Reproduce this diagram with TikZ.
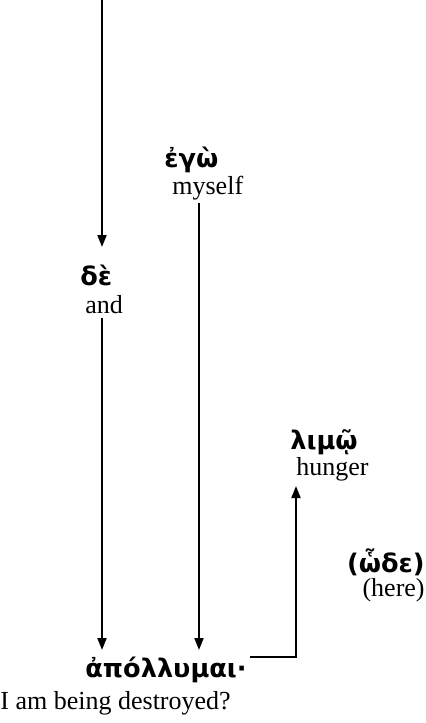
\documentclass[tikz,border=0pt]{standalone}
\usepackage{fontspec}
\setmainfont{Liberation Serif}
\newfontfamily\grk{DejaVu Sans}
\usetikzlibrary{arrows.meta}
\tikzset{
  greek/.style={font=\grk\bfseries\fontsize{12.8}{14}\selectfont, inner sep=0pt, anchor=west},
  eng/.style={font=\fontsize{13}{15}\selectfont, inner sep=0pt, anchor=west},
  arr/.style={line width=0.9pt, -{Triangle[length=6pt,width=4.5pt]}},
}
\begin{document}
\begin{tikzpicture}[x=0.5pt,y=-0.5pt]
\useasboundingbox (0,0) rectangle (426,723);
\coordinate (top) at (102,0);
\node[greek] (ego) at (164,160) {ἐγὼ};
\node[eng] (myself) at (172,188) {myself};
\node[greek] (de) at (80,275) {δὲ};
\node[eng] (and) at (85,305) {and};
\node[greek] (limo) at (290,442) {λιμῷ};
\node[eng] (hunger) at (296,469) {hunger};
\node[greek, anchor=east] (hode) at (425,562) {(ὧδε)};
\node[eng, anchor=east] (here) at (425,590) {(here)};
\node[greek] (apo) at (85,670) {ἀπόλλυμαι·};
\node[eng] (iam) at (0,703) {I am being destroyed?};
\coordinate (c1) at (102,247);
\coordinate (c2s) at (199,203);
\coordinate (c2e) at (199,650);
\coordinate (c3s) at (102,318);
\coordinate (c3e) at (102,650);
\coordinate (c4s) at (250,657);
\coordinate (c4e) at (296,486);
\draw[arr] (top) -- (c1);
\draw[arr] (c2s) -- (c2e);
\draw[arr] (c3s) -- (c3e);
\draw[arr] (c4s) -| (c4e);
\end{tikzpicture}
\end{document}
